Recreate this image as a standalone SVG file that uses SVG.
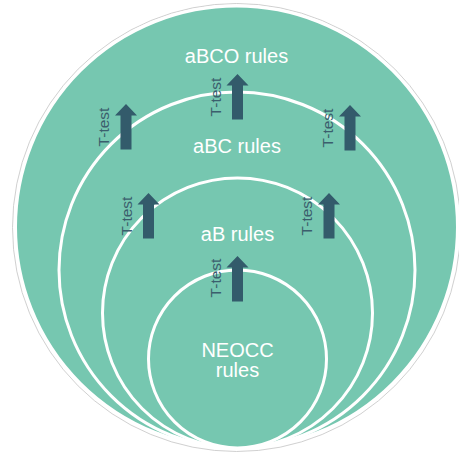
<svg xmlns="http://www.w3.org/2000/svg" width="459" height="455" viewBox="0 0 459 455">
<defs>
<style>
.ring{fill:#76c7b0;stroke:#ffffff;stroke-width:3}
.lbl{font-family:"Liberation Sans",Arial,sans-serif;font-size:20px;fill:#ffffff;text-anchor:middle}
.tt{font-family:"Liberation Sans",Arial,sans-serif;font-size:15.5px;fill:#3b5e6d;text-anchor:middle}
.arr{fill:#335b6b}
</style>
<path id="arrow" d="M0,0 L11,11.5 L5.5,11.5 L5.5,45.5 L-5.5,45.5 L-5.5,11.5 L-11,11.5 Z"/>
</defs>
<rect width="459" height="455" fill="#ffffff"/>
<g id="outer">
<circle cx="236.5" cy="227.5" r="224" fill="#ffffff" stroke="#c4c4c4" stroke-width="0.8"/>
<circle class="ring" cx="236.5" cy="227" r="221"/>
<text class="lbl" x="236.5" y="63">aBCO rules</text>
</g>
<g id="abc">
<circle class="ring" cx="237" cy="270" r="178"/>
<text class="lbl" x="237" y="153">aBC rules</text>
</g>
<g id="ab">
<circle class="ring" cx="237.5" cy="313" r="135"/>
<text class="lbl" x="237.5" y="241">aB rules</text>
</g>
<g id="neocc">
<circle class="ring" cx="237.5" cy="359" r="89"/>
<text class="lbl" x="237.5" y="357">NEOCC</text>
<text class="lbl" x="237.5" y="377">rules</text>
</g>
<g id="connectors">
<use href="#arrow" class="arr" x="237.5" y="74"/>
<text class="tt" transform="translate(220.5,97) rotate(-90)">T-test</text>
<use href="#arrow" class="arr" x="126" y="104"/>
<text class="tt" transform="translate(109,127) rotate(-90)">T-test</text>
<use href="#arrow" class="arr" x="350" y="105"/>
<text class="tt" transform="translate(333,128) rotate(-90)">T-test</text>
<use href="#arrow" class="arr" x="148.5" y="193"/>
<text class="tt" transform="translate(131.5,216) rotate(-90)">T-test</text>
<use href="#arrow" class="arr" x="329" y="193"/>
<text class="tt" transform="translate(312,216) rotate(-90)">T-test</text>
<use href="#arrow" class="arr" x="237.5" y="256"/>
<text class="tt" transform="translate(220.5,278) rotate(-90)">T-test</text>
</g>
</svg>
